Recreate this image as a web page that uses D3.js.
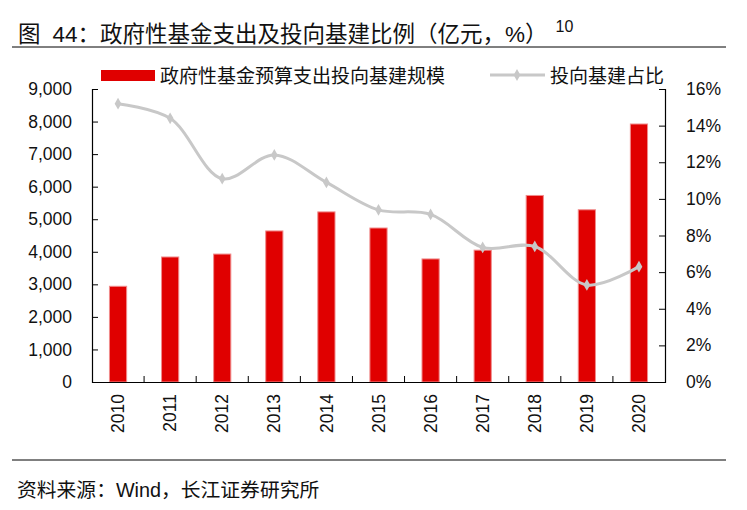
<!DOCTYPE html>
<html>
<head>
<meta charset="utf-8">
<script src="https://cdn.jsdelivr.net/npm/d3@7"></script>
<style>
body { margin: 0; background: #fff; }
text { font-family: "Liberation Sans", Arial, "Noto Sans CJK SC", sans-serif; }
</style>
</head>
<body>
<script>
// chart data
let years = ["2010", "2011", "2012", "2013", "2014", "2015", "2016", "2017", "2018", "2019", "2020"];
let spending = [2940, 3840, 3930, 4640, 5225, 4730, 3780, 4050, 5730, 5290, 7925]; //亿元
let share = [15.2, 14.4, 11.1, 12.4, 10.9, 9.4, 9.15, 7.35, 7.4, 5.3, 6.3]; //%
let leftTicks = [0, 1000, 2000, 3000, 4000, 5000, 6000, 7000, 8000, 9000];
let rightTicks = [0, 2, 4, 6, 8, 10, 12, 14, 16];

let svg = d3.select("body").append("svg")
	.attr("width", 747)
	.attr("height", 510);

let cjk = "'Liberation Sans', 'Noto Sans CJK SC', sans-serif";

//title with the superscript footnote
let title = svg.append("text")
	.attr("x", 18)
	.attr("y", 42)
	.attr("font-size", 22.5)
	.attr("font-family", cjk)
	.attr("fill", "#111");
title.append("tspan").text("图");
title.append("tspan").attr("dx", 12).text("44：政府性基金支出及投向基建比例（亿元，%）");
title.append("tspan").attr("font-size", 16).attr("dy", -10).attr("dx", 8).text("10");

svg.append("line")
	.attr("x1", 12).attr("x2", 726)
	.attr("y1", 47).attr("y2", 47)
	.attr("stroke", "#000").attr("stroke-width", 1);

svg.append("line")
	.attr("x1", 12).attr("x2", 726)
	.attr("y1", 460).attr("y2", 460)
	.attr("stroke", "#000").attr("stroke-width", 1);

svg.append("text")
	.attr("x", 17)
	.attr("y", 497)
	.attr("font-size", 19.8)
	.attr("font-family", cjk)
	.attr("fill", "#111")
	.text("资料来源：Wind，长江证券研究所");

let margin = { top: 89, left: 92, right: 82, bottom: 128 };
let innerWidth = 747 - margin.left - margin.right;
let innerHeight = 510 - margin.top - margin.bottom;

let g = svg.append("g")
	.attr("transform", `translate(${margin.left}, ${margin.top})`);

let scaleX = d3.scaleBand()
	.domain(years)
	.range([0, innerWidth])
	.paddingInner(0.67)
	.paddingOuter(0.335);

let scaleY = d3.scaleLinear()
	.domain([0, 9000])
	.range([innerHeight, 0]);

let scaleY2 = d3.scaleLinear()
	.domain([0, 16])
	.range([innerHeight, 0]);

//bars
g.selectAll("rect.bar")
	.data(spending)
	.enter().append("rect")
		.attr("class", "bar")
		.attr("x", (d, i) => scaleX(years[i]))
		.attr("width", scaleX.bandwidth())
		.attr("y", d => scaleY(d))
		.attr("height", d => innerHeight - scaleY(d))
		.attr("fill", "#e00000")
		.attr("stroke", "#f08c8c")
		.attr("stroke-width", 1);

//smooth line for the share
let line = d3.line()
	.x((d, i) => scaleX(years[i]) + scaleX.bandwidth() / 2)
	.y(d => scaleY2(d))
	.curve(d3.curveCatmullRom.alpha(0.5));

g.append("path")
	.datum(share)
	.attr("fill", "none")
	.attr("stroke", "#c8c8c8")
	.attr("stroke-width", 3)
	.attr("stroke-linejoin", "round")
	.attr("d", line);

g.selectAll("path.dot")
	.data(share)
	.enter().append("path")
		.attr("class", "dot")
		.attr("d", d3.symbol(d3.symbolDiamond, 40))
		.attr("transform", (d, i) => `translate(${scaleX(years[i]) + scaleX.bandwidth() / 2}, ${scaleY2(d)})`)
		.attr("fill", "#c8c8c8");

//axes
let yAxis = d3.axisLeft(scaleY)
	.tickValues(leftTicks)
	.tickSize(-6)
	.tickPadding(20)
	.tickFormat(d3.format(","));

let yG = g.append("g").call(yAxis);
yG.selectAll("text").attr("font-size", 17.5).attr("fill", "#111");

let yAxis2 = d3.axisRight(scaleY2)
	.tickValues(rightTicks)
	.tickSize(-6)
	.tickPadding(21)
	.tickFormat(d => d + "%");

let yG2 = g.append("g")
	.attr("transform", `translate(${innerWidth}, 0)`)
	.call(yAxis2);
yG2.selectAll("text").attr("font-size", 17.5).attr("fill", "#111");

let xAxis = d3.axisBottom(scaleX).tickSize(0).tickPadding(0);
let xG = g.append("g")
	.attr("transform", `translate(0, ${innerHeight})`)
	.call(xAxis);
xG.selectAll("text")
	.attr("font-size", 17.5)
	.attr("fill", "#111")
	.attr("transform", "rotate(-90)")
	.attr("text-anchor", "end")
	.attr("dy", "0.35em")
	.attr("x", -12)
	.attr("y", 0);

//band boundary ticks on x axis
let step = scaleX.step();
let bounds = d3.range(1, years.length).map(i => scaleX(years[i]) - step * 0.335);
xG.selectAll("line.sep")
	.data(bounds)
	.enter().append("line")
		.attr("class", "sep")
		.attr("x1", d => d).attr("x2", d => d)
		.attr("y1", 0).attr("y2", -6)
		.attr("stroke", "#000");

[yG, yG2, xG].forEach(a => {
	a.select(".domain").attr("stroke", "#000").attr("stroke-width", 1.2);
	a.selectAll(".tick line").attr("stroke", "#000");
});

//legend
let legend = svg.append("g");
legend.append("rect")
	.attr("x", 101).attr("y", 70)
	.attr("width", 54).attr("height", 11)
	.attr("fill", "#e00000");
legend.append("text")
	.attr("x", 160).attr("y", 83)
	.attr("font-size", 19)
	.attr("font-family", cjk)
	.attr("fill", "#111")
	.text("政府性基金预算支出投向基建规模");
legend.append("line")
	.attr("x1", 490).attr("x2", 545)
	.attr("y1", 75).attr("y2", 75)
	.attr("stroke", "#c8c8c8").attr("stroke-width", 3);
legend.append("path")
	.attr("d", d3.symbol(d3.symbolDiamond, 40))
	.attr("transform", "translate(517, 75)")
	.attr("fill", "#c8c8c8");
legend.append("text")
	.attr("x", 550).attr("y", 83)
	.attr("font-size", 19)
	.attr("font-family", cjk)
	.attr("fill", "#111")
	.text("投向基建占比");
</script>
</body>
</html>
